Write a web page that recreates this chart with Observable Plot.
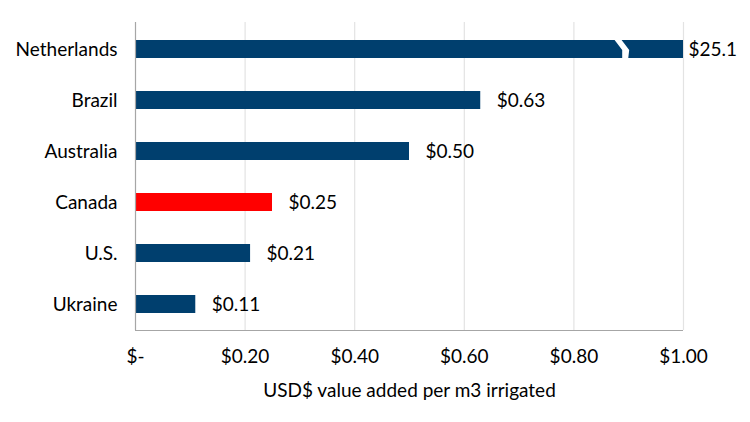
<!DOCTYPE html>
<html>
<head>
<meta charset="utf-8">
<script src="https://cdn.jsdelivr.net/npm/d3@7"></script>
<script src="https://cdn.jsdelivr.net/npm/@observablehq/plot@0.6"></script>
<style>
  html, body { margin: 0; padding: 0; background: #fff; }
  #chart svg { display: block; }
</style>
</head>
<body>
<div id="chart"></div>
<script>
// Data
const countries = ["Netherlands", "Brazil", "Australia", "Canada", "U.S.", "Ukraine"];
const values = [25.1, 0.63, 0.50, 0.25, 0.21, 0.11];
const valueLabels = ["$25.1", "$0.63", "$0.50", "$0.25", "$0.21", "$0.11"];
const xTicks = [0, 0.2, 0.4, 0.6, 0.8, 1.0];
const xTickLabels = ["$-", "$0.20", "$0.40", "$0.60", "$0.80", "$1.00"];
const axisTitle = "USD$ value added per m3 irrigated";
const highlight = "Canada";
const axisMax = 1.0;
const breakAt = 0.9; // position of the axis-break marker on the truncated bar

const data = countries.map((c, i) => ({country: c, value: values[i], label: valueLabels[i]}));

const navy = "#003f6e";
const red = "#ff0000";
const font = "Lato, 'Open Sans', sans-serif";
const fs = 19;

// Custom marks drawn through Plot's scales
function bottomAxisLine(index, scales, values, dims) {
  const y = dims.height - dims.marginBottom;
  return d3.create("svg:line")
    .attr("x1", scales.x(0)).attr("x2", scales.x(axisMax))
    .attr("y1", y + 0.5).attr("y2", y + 0.5)
    .attr("stroke", "#a6a6a6").attr("stroke-width", 1.2).node();
}

function breakMarker(index, scales) {
  const truncated = data.filter(d => d.value > axisMax);
  const g = d3.create("svg:g");
  const bw = scales.y.bandwidth();
  for (const d of truncated) {
    const y0 = scales.y(d.country), y1 = y0 + bw, ym = y0 + bw * 0.55;
    const xa = scales.x(breakAt);
    const pts = [
      [xa - 14, y0 - 0.5], [xa - 7, y0 - 0.5], [xa + 1, ym], [xa, y1 + 0.5],
      [xa - 6, y1 + 0.5], [xa - 6, ym]
    ];
    g.append("path").attr("d", "M" + pts.map(p => p.join(",")).join("L") + "Z")
      .attr("fill", "#fff");
  }
  return g.node();
}

const chart = Plot.plot({
  width: 750,
  height: 422,
  marginTop: 22,
  marginBottom: 92,
  marginLeft: 135,
  marginRight: 67,
  style: {fontFamily: font, fontSize: fs + "px", color: "#000", background: "#fff"},
  x: {domain: [0, axisMax], label: null},
  y: {domain: countries, paddingInner: 0.65, paddingOuter: 0.325, label: null},
  marks: [
    Plot.gridX(xTicks.filter(t => t > 0), {stroke: "#e3e3e3", strokeOpacity: 1, strokeWidth: 1.2}),
    Plot.axisX({ticks: xTicks, tickFormat: d => xTickLabels[xTicks.indexOf(d)], tickSize: 0, tickPadding: 19,
      fontSize: fs, label: axisTitle, labelAnchor: "center", labelOffset: 66, labelArrow: "none"}),
    Plot.axisY({tickSize: 0, tickPadding: 18, fontSize: fs, label: null}),
    Plot.barX(data, {
      y: "country",
      x: d => Math.min(d.value, axisMax),
      fill: d => d.country === highlight ? red : navy
    }),
    breakMarker,
    Plot.ruleX([0], {stroke: "#a6a6a6", strokeWidth: 1.2}),
    bottomAxisLine,
    Plot.text(data.filter(d => d.value <= axisMax), {
      y: "country", x: "value", text: "label",
      textAnchor: "start", dx: 16, fill: "#000", fontSize: fs
    }),
    Plot.text(data.filter(d => d.value > axisMax), {
      y: "country", x: () => axisMax, text: "label",
      textAnchor: "start", dx: 5, fill: "#000", fontSize: fs
    })
  ]
});

document.getElementById("chart").appendChild(chart);
</script>
</body>
</html>
